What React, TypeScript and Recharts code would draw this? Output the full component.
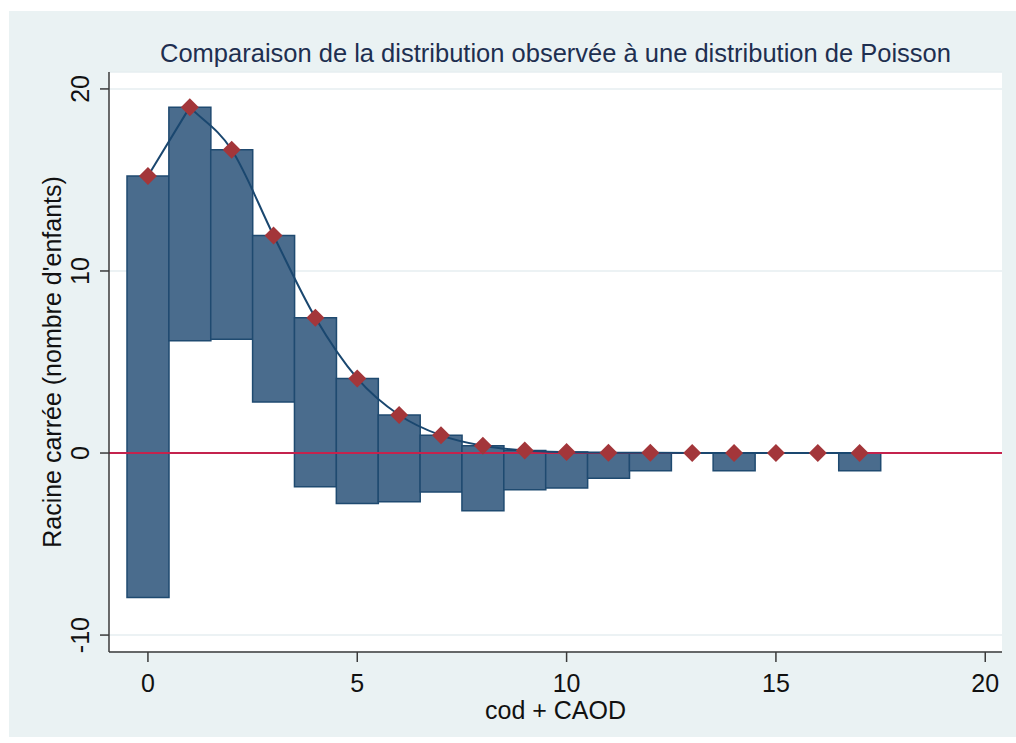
import {
  ComposedChart,
  Bar,
  Line,
  XAxis,
  YAxis,
  CartesianGrid,
  ReferenceLine,
} from "recharts";

// cod + CAOD counts
const counts = [0, 1, 2, 3, 4, 5, 6, 7, 8, 9, 10, 11, 12, 13, 14, 15, 16, 17];
// sqrt of expected Poisson frequency (diamonds, bar tops)
const expected = [
  15.22, 19.0, 16.66, 11.95, 7.43, 4.1, 2.09, 0.97, 0.4, 0.14, 0.05, 0.02, 0.01,
  0, 0, 0, 0, 0,
];
// bottom of hanging bars = expected - sqrt(observed)
const barBottom = [
  -7.93, 6.17, 6.25, 2.8, -1.85, -2.77, -2.67, -2.14, -3.17, -2.02, -1.92,
  -1.38, -0.97, 0, -0.97, 0, 0, -0.97,
];
const xTicks = [0, 5, 10, 15, 20];
const yTicks = [-10, 0, 10, 20];

const FONT = "'Liberation Sans', Arial, Helvetica, sans-serif";

const data = counts.map((c, i) => ({
  x: c,
  range: [barBottom[i], expected[i]],
  expected: expected[i],
}));

// smooth where monotone, sharp corner at the peak (like the Stata curve)
const kinkCurve = (context: any) => {
  let xs: number[] = [];
  let ys: number[] = [];
  const tan = (s: number[], i: number, side: "in" | "out") => {
    const n = s.length + 1;
    if (i === 0) return s[0];
    if (i === n - 1) return s[n - 2];
    const a = s[i - 1];
    const b = s[i];
    if (a * b > 0) {
      const avg = (a + b) / 2;
      const lim = 3 * Math.min(Math.abs(a), Math.abs(b));
      return Math.sign(avg) * Math.min(Math.abs(avg), lim);
    }
    return side === "in" ? a : b;
  };
  return {
    areaStart() {},
    areaEnd() {},
    lineStart() {
      xs = [];
      ys = [];
    },
    point(x: number, y: number) {
      xs.push(+x);
      ys.push(+y);
    },
    lineEnd() {
      const n = xs.length;
      if (!n) return;
      context.moveTo(xs[0], ys[0]);
      if (n === 1) return;
      const s: number[] = [];
      for (let i = 0; i < n - 1; i++) s.push((ys[i + 1] - ys[i]) / (xs[i + 1] - xs[i]));
      for (let i = 0; i < n - 1; i++) {
        const h = xs[i + 1] - xs[i];
        const t0 = tan(s, i, "out");
        const t1 = tan(s, i + 1, "in");
        context.bezierCurveTo(
          xs[i] + h / 3,
          ys[i] + (t0 * h) / 3,
          xs[i + 1] - h / 3,
          ys[i + 1] - (t1 * h) / 3,
          xs[i + 1],
          ys[i + 1]
        );
      }
    },
  };
};

const Diamond = (props: any) => {
  const { cx, cy } = props;
  if (cx == null || cy == null) return null;
  const r = 9;
  return (
    <polygon
      key={`d-${cx}`}
      points={`${cx},${cy - r} ${cx + r},${cy} ${cx},${cy + r} ${cx - r},${cy}`}
      fill="#A3363A"
    />
  );
};

const YTick = (props: any) => {
  const { x, y, payload } = props;
  return (
    <text
      x={x - 1}
      y={y}
      transform={`rotate(-90 ${x - 1} ${y})`}
      textAnchor="middle"
      fontSize={25}
      fontFamily={FONT}
      fill="#111"
    >
      {payload.value}
    </text>
  );
};

export default function App() {
  return (
    <div
      style={{
        position: "absolute",
        left: 0,
        top: 0,
        width: 1016,
        height: 743,
        background: "#fff",
        fontFamily: FONT,
      }}
    >
      <div
        style={{
          position: "absolute",
          left: 9,
          top: 11,
          width: 1007,
          height: 726,
          background: "#EAF2F3",
        }}
      />
      <div
        style={{
          position: "absolute",
          left: 109,
          width: 893,
          top: 41,
          textAlign: "center",
          fontSize: 25.5,
          lineHeight: "25px",
          color: "#1E2F50",
          whiteSpace: "nowrap",
        }}
      >
        Comparaison de la distribution observée à une distribution de Poisson
      </div>
      <div style={{ position: "absolute", left: 0, top: 0 }}>
        <ComposedChart
          width={1016}
          height={743}
          data={data}
          margin={{ top: 72, right: 14, bottom: 0, left: 0 }}
          barCategoryGap={0}
          barGap={0}
        >
          <CartesianGrid
            vertical={false}
            stroke="#E6EEF0"
            strokeWidth={1.5}
            fill="#fff"
          />
          <XAxis
            dataKey="x"
            type="number"
            domain={[-0.93, 20.4]}
            ticks={xTicks}
            allowDataOverflow
            height={91}
            tickSize={10}
            tickMargin={12}
            tick={{ fontSize: 25, fill: "#111", fontFamily: FONT }}
            axisLine={{ stroke: "#3a3a3a", strokeWidth: 1.5 }}
            tickLine={{ stroke: "#3a3a3a", strokeWidth: 1.5 }}
            label={{
              value: "cod + CAOD",
              position: "insideBottom",
              offset: 24,
              fontSize: 25,
              fill: "#111",
              fontFamily: FONT,
            }}
          />
          <YAxis
            type="number"
            domain={[-10.93, 20.93]}
            ticks={yTicks}
            allowDataOverflow
            width={109}
            tickSize={9}
            tickMargin={10}
            tick={<YTick />}
            axisLine={{ stroke: "#3a3a3a", strokeWidth: 1.5 }}
            tickLine={{ stroke: "#3a3a3a", strokeWidth: 1.5 }}
            label={{
              value: "Racine carrée (nombre d'enfants)",
              angle: -90,
              position: "center",
              dx: -2,
              fontSize: 25,
              fill: "#111",
              fontFamily: FONT,
            }}
          />
          <ReferenceLine y={0} stroke="#C4234D" strokeWidth={2} />
          <Bar
            dataKey="range"
            fill="#4A6C8D"
            stroke="#1F4A70"
            strokeWidth={1.5}
            isAnimationActive={false}
          />
          <Line
            dataKey="expected"
            type={kinkCurve as any}
            stroke="#1A476F"
            strokeWidth={2}
            dot={<Diamond />}
            activeDot={false}
            isAnimationActive={false}
          />
        </ComposedChart>
      </div>
    </div>
  );
}
